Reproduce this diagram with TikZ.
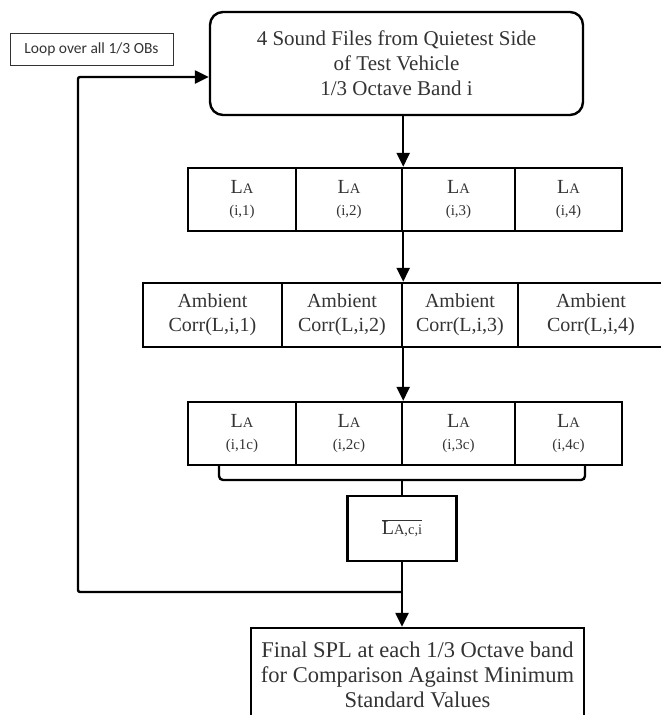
\documentclass[tikz,border=0pt]{standalone}
\usepackage{fontspec}
\setmainfont{Liberation Serif}
\newfontfamily\loopfont{Carlito}
\usepackage{tikz}
\usetikzlibrary{arrows.meta}
\usepackage{xcolor}
\definecolor{inkgray}{gray}{0.2}
\newcommand{\capA}{{\fontsize{14.5}{14.5}\selectfont A}}
\newcommand{\bandidx}[1]{{\fontsize{15}{22}\selectfont #1}}

\begin{document}
\begin{tikzpicture}[x=1pt, y=-1pt,
    box/.style={draw, line width=2.4pt, inner sep=0pt, align=center, text=inkgray},
    cell/.style={box, minimum height=63pt, font=\fontsize{20}{22}\selectfont},
    corr/.style={box, minimum height=64pt, font=\fontsize{20}{24}\selectfont},
    wire/.style={line width=2.4pt},
    arr/.style={wire, -{Triangle[width=13pt,length=14pt]}}]
    \useasboundingbox (0,0) rectangle (661,715);
    \clip (0,0) rectangle (661,715);

    % Start box and loop label
    \node[box, rounded corners=13pt, minimum width=373pt, minimum height=103pt, font=\fontsize{21}{25}\selectfont] (files) at (396.5,63.5) {4 Sound Files from Quietest Side\\of Test Vehicle\\1/3 Octave Band i};
    \node[draw=inkgray, line width=1pt, minimum width=163pt, minimum height=32pt, inner sep=0pt, text=inkgray, font=\loopfont\fontsize{15.5}{16}\selectfont] (loop) at (91.5,49) {Loop over all 1/3 OBs};

    % Row of raw levels
    \node[cell, minimum width=108pt] (a1) at (242,199.5) {L\capA\\\bandidx{(i,1)}};
    \node[cell, minimum width=106pt] (a2) at (349,199.5) {L\capA\\\bandidx{(i,2)}};
    \node[cell, minimum width=113pt] (a3) at (458.5,199.5) {L\capA\\\bandidx{(i,3)}};
    \node[cell, minimum width=107pt] (a4) at (568.5,199.5) {L\capA\\\bandidx{(i,4)}};

    % Row of ambient corrections
    \node[corr, minimum width=139pt] (b1) at (212.5,315) {Ambient\\Corr(L,i,1)};
    \node[corr, minimum width=120pt] (b2) at (342,315) {Ambient\\Corr(L,i,2)};
    \node[corr, minimum width=116pt] (b3) at (460,315) {Ambient\\Corr(L,i,3)};
    \node[corr, minimum width=146pt] (b4) at (591,315) {Ambient\\Corr(L,i,4)};

    % Row of corrected levels
    \node[cell, minimum width=108pt] (c1) at (242,433.5) {L\capA\\\bandidx{(i,1c)}};
    \node[cell, minimum width=106pt] (c2) at (349,433.5) {L\capA\\\bandidx{(i,2c)}};
    \node[cell, minimum width=113pt] (c3) at (458.5,433.5) {L\capA\\\bandidx{(i,3c)}};
    \node[cell, minimum width=107pt] (c4) at (568.5,433.5) {L\capA\\\bandidx{(i,4c)}};

    % Average and result
    \node[box, minimum width=109pt, minimum height=65pt, font=\fontsize{20}{22}\selectfont] (mean) at (402,528.5) {$\overline{\mbox{L{\fontsize{14.5}{14.5}\selectfont A,c,i}}}$};
    \node[box, minimum width=333pt, minimum height=94pt, font=\fontsize{22.5}{25}\selectfont] (final) at (417.5,675) {Final SPL at each 1/3 Octave band\\for Comparison Against Minimum\\Standard Values};

    % Main flow
    \draw[arr] (files.south -| a2.east) -- (a2.north east);
    \draw[arr] (a2.south east) -- (b2.north east);
    \draw[arr] (b2.south east) -- (c2.north east);

    % Bracket under corrected levels
    \coordinate (brl) at (219,480);
    \coordinate (brr) at (585,480);
    \draw[wire, rounded corners=4pt] (c1.south -| brl) -- (brl) -- (brr) -- (c4.south -| brr);
    \draw[wire] (mean.north) -- (mean.north |- brl);

    \draw[arr] (mean.south) -- (mean.south |- final.north);

    % Loop back
    \coordinate (back) at (78,592);
    \coordinate (backup) at (78,77);
    \draw[arr, rounded corners=2pt] (back -| mean.south) -- (back) -- (backup) -- (backup -| files.west);
\end{tikzpicture}
\end{document}
